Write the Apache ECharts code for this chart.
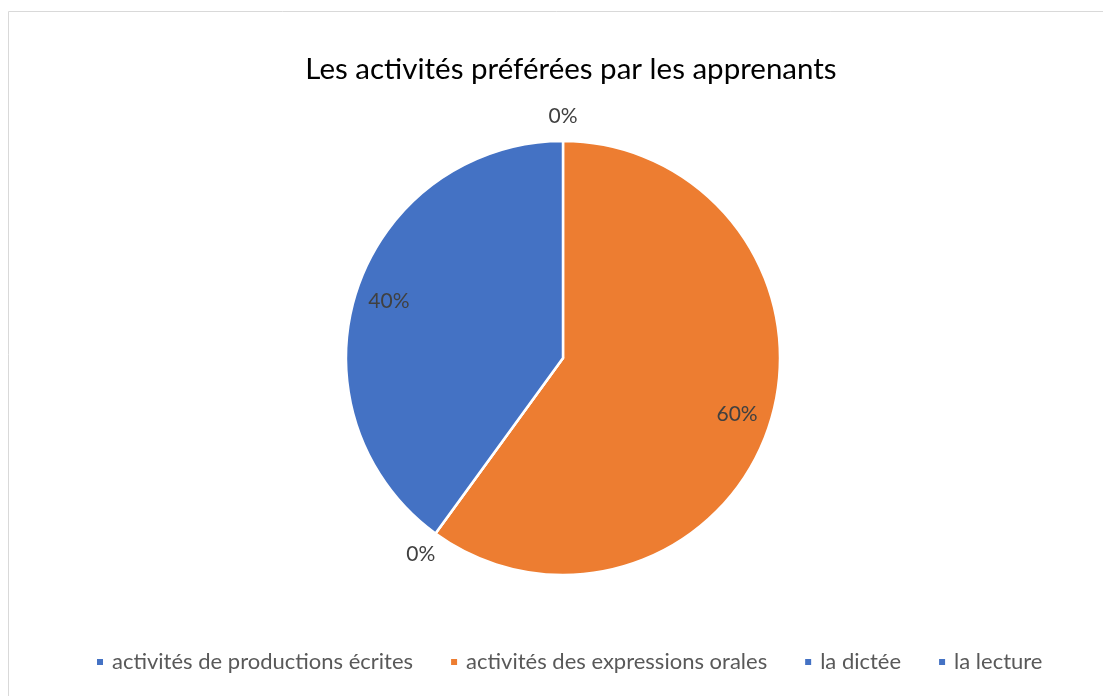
<!DOCTYPE html>
<html>
<head>
<meta charset="utf-8">
<script src="https://cdn.jsdelivr.net/npm/echarts@6/dist/echarts.min.js"></script>
<style>
  html, body { margin: 0; padding: 0; background: #fff; }
  #main { width: 1103px; height: 696px; }
</style>
</head>
<body>
<div id="main"></div>
<script>
const chartDom = document.getElementById('main');
const myChart = echarts.init(chartDom);

const categories = [
    'activités de productions écrites',
    'activités des expressions orales',
    'la dictée',
    'la lecture'
];
const percents = [0, 60, 0, 40];
const colors = ['#4472C4', '#ED7D31', '#4472C4', '#4472C4'];

const FONT = 'Lato';
const center = [563, 358];

// real slices
const sliceData = categories.map((name, i) => ({
    name: name,
    value: percents[i],
    itemStyle: { color: colors[i] }
}));

// transparent copies, only used to place the labels
const labelData = (keepZero) => categories.map((name, i) => ({
    name: name,
    value: percents[i],
    label: { show: keepZero ? percents[i] === 0 : percents[i] !== 0 }
}));

const labelStyle = {
    position: 'inside',
    formatter: '{c}%',
    color: '#404040',
    fontSize: 21,
    fontFamily: FONT
};

const option = {
    title: {
        text: 'Les activités préférées par les apprenants',
        left: 566,
        textAlign: 'center',
        top: 49,
        textStyle: {
            fontFamily: FONT,
            fontSize: 29.5,
            fontWeight: 'normal',
            color: '#000'
        }
    },
    legend: {
        data: categories,
        bottom: 18,
        left: 90,
        icon: 'rect',
        itemWidth: 8,
        itemHeight: 8,
        itemGap: 36,
        textStyle: { fontFamily: FONT, fontSize: 22, color: '#595959', padding: [0, 0, 0, 3] }
    },
    graphic: [{
        type: 'rect',
        shape: { x: 8.5, y: 11.5, width: 1200, height: 800 },
        style: { fill: 'none', stroke: '#d9d9d9', lineWidth: 1 },
        silent: true
    }],
    series: [
        {
            type: 'pie',
            center: center,
            radius: 217,
            startAngle: 90,
            clockwise: true,
            avoidLabelOverlap: false,
            label: { show: false },
            labelLine: { show: false },
            itemStyle: { borderColor: '#fff', borderWidth: 2.5 },
            emphasis: { disabled: true },
            data: sliceData
        },
        {
            type: 'pie',
            center: center,
            radius: [0, 360],
            startAngle: 90,
            clockwise: true,
            silent: true,
            avoidLabelOverlap: false,
            itemStyle: { color: 'rgba(0,0,0,0)', borderWidth: 0 },
            label: labelStyle,
            labelLine: { show: false },
            emphasis: { disabled: true },
            data: labelData(false)
        },
        {
            type: 'pie',
            center: center,
            radius: [218, 260],
            startAngle: 90,
            clockwise: true,
            silent: true,
            avoidLabelOverlap: false,
            itemStyle: { color: 'rgba(0,0,0,0)', borderWidth: 0 },
            label: labelStyle,
            labelLine: { show: false },
            emphasis: { disabled: true },
            data: labelData(true)
        }
    ]
};

myChart.setOption(option);
</script>
</body>
</html>
